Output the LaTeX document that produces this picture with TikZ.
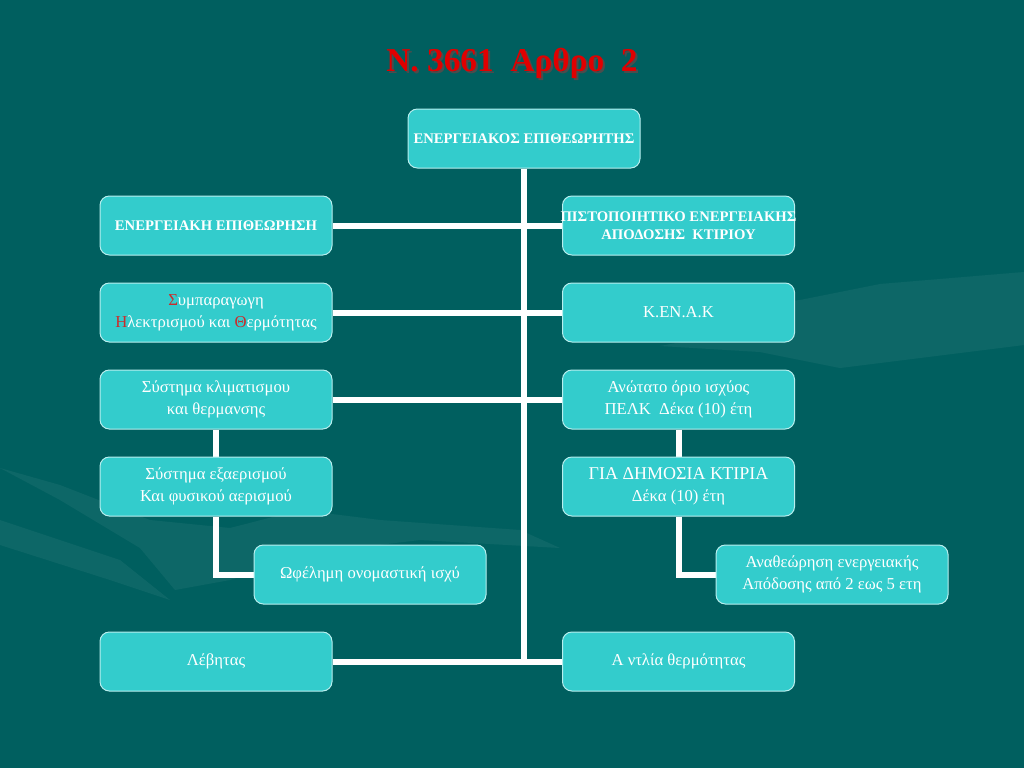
\documentclass[tikz,border=0pt]{standalone}
\usepackage{fontspec}
\setmainfont{Liberation Serif}
\pgfdeclarelayer{back}
\pgfdeclarelayer{conn}
\pgfsetlayers{back,conn,main}
\definecolor{bgc}{HTML}{005F5F}
\definecolor{boxc}{HTML}{33CCCC}
\definecolor{edgec}{HTML}{B8EEEE}
\definecolor{redl}{HTML}{CC2A2A}
\definecolor{titlec}{HTML}{E00000}
\tikzset{
  box/.style={draw=edgec, line width=0.75pt, fill=boxc, rounded corners=7pt,
    minimum width=174pt, minimum height=44.25pt, text=white, align=center,
    inner sep=1pt, font=\fontsize{12.5}{16.5}\selectfont},
  capsbox/.style={box, font=\fontsize{11}{13.5}\selectfont\bfseries},
  conn/.style={draw=white, line width=4.5pt},
  swoosh/.style={fill=white, opacity=0.05, draw=none}
}
\begin{document}
\begin{tikzpicture}[x=0.75pt,y=-0.75pt]
\useasboundingbox (0,0) rectangle (1024,768);
\begin{pgfonlayer}{back}
\fill[bgc] (0,0) rectangle (1024,768);
\fill[swoosh] (1024,272) -- (880,284) -- (800,300) -- (650,318) -- (790,322) -- (660,346) -- (760,352) -- (840,368) -- (1024,345) -- cycle;
\fill[swoosh] (0,468) -- (60,500) -- (140,548) -- (175,590) -- (230,580) -- (320,552) -- (420,540) -- (560,548) -- (520,530) -- (380,520) -- (300,510) -- (230,528) -- (150,520) -- (60,485) -- cycle;
\fill[swoosh] (0,520) -- (120,560) -- (170,600) -- (110,580) -- (0,545) -- cycle;
\end{pgfonlayer}
% title
\node (titleshadow) at (514,65) {\fontsize{25}{30}\selectfont\bfseries\color{black!70}N. 3661\ \ Αρθρο\ \ 2};
\node (title) at (512,63) {\fontsize{25}{30}\selectfont\bfseries\color{titlec}N. 3661\ \ Αρθρο\ \ 2};
% boxes
\node[capsbox] (top) at (524,138.5) {ΕΝΕΡΓΕΙΑΚΟΣ ΕΠΙΘΕΩΡΗΤΗΣ};
\node[capsbox] (l1) at (216,225.5) {ΕΝΕΡΓΕΙΑΚΗ ΕΠΙΘΕΩΡΗΣΗ};
\node[capsbox] (r1) at (678.5,225.5) {\makebox[160pt]{ΠΙΣΤΟΠΟΙΗΤΙΚΟ ΕΝΕΡΓΕΙΑΚΗΣ}\\ΑΠΟΔΟΣΗΣ\ \ ΚΤΙΡΙΟΥ};
\node[box] (l2) at (216,312.5) {{\color{redl}Σ}υμπαραγωγη\\{\color{redl}Η}λεκτρισμού και {\color{redl}Θ}ερμότητας};
\node[box] (r2) at (678.5,312.5) {Κ.ΕΝ.Α.Κ};
\node[box] (l3) at (216,399.5) {Σύστημα κλιματισμου\\και θερμανσης};
\node[box] (r3) at (678.5,399.5) {Ανώτατο όριο ισχύος\\ΠΕΛΚ\ \ Δέκα (10) έτη};
\node[box] (l4) at (216,486.5) {Σύστημα εξαερισμού\\Και φυσικού αερισμού};
\node[box] (r4) at (678.5,486.5) {{\fontsize{13.5}{16.5}\selectfont ΓΙΑ ΔΗΜΟΣΙΑ ΚΤΙΡΙΑ}\\Δέκα (10) έτη};
\node[box] (w) at (370,574.5) {Ωφέλημη ονομαστική ισχύ};
\node[box] (a) at (832,574.5) {Αναθεώρηση ενεργειακής\\Απόδοσης από 2 εως 5 ετη};
\node[box] (l6) at (216,661.5) {Λέβητας};
\node[box] (r6) at (678.5,661.5) {Α ντλία θερμότητας};
% connectors
\begin{pgfonlayer}{conn}
\draw[conn] (top.south) -- (top.south |- l6.east);
\draw[conn] (l1.east) -- (r1.west);
\draw[conn] (l2.east) -- (r2.west);
\draw[conn] (l3.east) -- (r3.west);
\draw[conn] (l6.east) -- (r6.west);
\draw[conn] (l3.south) -- (l4.north);
\draw[conn] (l4.south) |- (w.west);
\draw[conn] (r3.south) -- (r4.north);
\draw[conn] (r4.south) |- (a.west);
\end{pgfonlayer}
\end{tikzpicture}
\end{document}
